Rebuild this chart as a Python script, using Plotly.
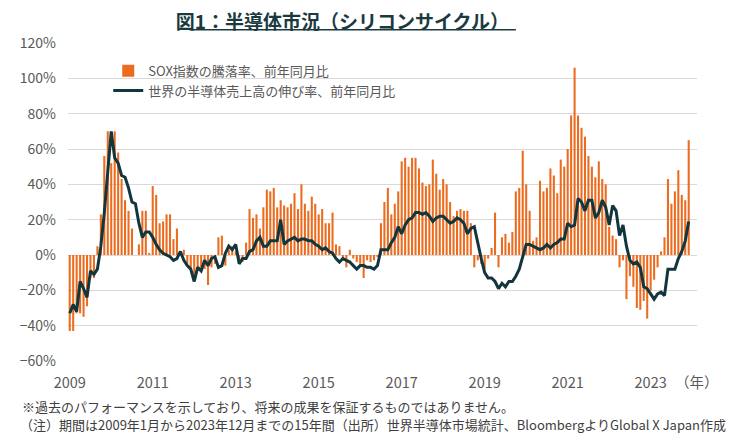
import plotly.graph_objects as go

FONT = "Noto Sans CJK JP"

years = list(range(2009, 2024))

# SOX指数の騰落率（前年同月比, %）— 1年12か月ずつ
sox = {
    2009: [-43, -43, -33, -33, -35, -29, -13, -13, 5, 23, 56, 70],
    2010: [52, 70, 58, 43, 31, 25, 15, 0, 6, 25, 25, 1],
    2011: [39, 34, 18, 19, 23, 23, 9, 15, 0, 3, -5, -8],
    2012: [-12, -8, -7, -8, -17, -7, -5, 10, 11, -6, 3, 5],
    2013: [2, -3, -4, 7, 26, 21, 23, 15, 27, 37, 36, 38],
    2014: [27, 31, 28, 27, 29, 35, 26, 40, 29, 25, 33, 29],
    2015: [23, 26, 18, 18, 24, 6, 5, -2, -7, 3, -2, -4],
    2016: [-5, -13, -3, -4, -3, -1, 18, 30, 38, 23, 29, 36],
    2017: [53, 55, 50, 55, 55, 49, 41, 39, 40, 54, 46, 37],
    2018: [43, 40, 30, 22, 25, 26, 25, 25, 18, -7, -3, -5],
    2019: [-8, -2, 4, 24, -7, 10, 12, 7, 13, 36, 38, 59],
    2020: [40, 25, 8, 10, 42, 36, 38, 49, 45, 35, 54, 50],
    2021: [60, 79, 106, 79, 72, 67, 56, 50, 44, 53, 43, 40],
    2022: [16, 11, 9, -7, -3, -25, -12, -18, -30, -31, -26, -36],
    2023: [-20, -14, -7, 2, 10, 43, 29, 36, 48, 34, 31, 65],
}

# 世界の半導体売上高の伸び率（前年同月比, %）
sales = {
    2009: [-33, -28, -32, -15, -19, -24, -9, -11, -8, 5, 24, 49],
    2010: [70, 55, 52, 45, 44, 38, 30, 29, 18, 10, 13, 13],
    2011: [10, 6, 3, 1, 0, -1, -3, -2, 2, -3, -6, -8],
    2012: [-15, -7, -9, -3, -6, -2, -1, -7, -6, 1, 5, 3],
    2013: [6, -5, -2, -2, 2, 3, 8, 10, 5, 5, 8, 8],
    2014: [8, 20, 6, 8, 9, 10, 8, 9, 9, 8, 8, 6],
    2015: [5, 3, 4, 2, 1, -2, -4, -2, -3, -4, -6, -8],
    2016: [-6, -6, -7, -7, -8, -6, 3, 3, 3, 7, 10, 16],
    2017: [12, 17, 20, 21, 24, 24, 23, 24, 22, 19, 21, 22],
    2018: [22, 20, 18, 19, 21, 20, 18, 12, 15, 16, 6, -2],
    2019: [-10, -13, -13, -15, -19, -16, -18, -15, -15, -12, -8, -1],
    2020: [6, 6, 5, 4, 3, 4, 6, 4, 6, 7, 9, 9],
    2021: [18, 16, 17, 32, 30, 25, 31, 31, 21, 24, 31, 27],
    2022: [17, 28, 25, 11, 17, 5, -3, -5, -4, -7, -18, -19],
    2023: [-22, -25, -22, -21, -23, -8, -8, -8, -2, 2, 8, 19],
}

tick_years = [2009, 2011, 2013, 2015, 2017, 2019, 2021, 2023]

months = [f"{y}-{m:02d}" for y in years for m in range(1, 13)]
sox_all = [v for y in years for v in sox[y]]
sales_all = [v for y in years for v in sales[y]]

fig = go.Figure()
fig.add_trace(go.Bar(
    x=months, y=sox_all, name="SOX指数の騰落率、前年同月比",
    marker=dict(color="#EC6C1F", line=dict(width=0)),
))
fig.add_trace(go.Scatter(
    x=months, y=sales_all, name="世界の半導体売上高の伸び率、前年同月比",
    mode="lines", line=dict(color="#12363D", width=3),
))

# ページ本体の余白(8px)を見込んでやや小さめに描く
fig.update_layout(
    width=738, height=431,
    margin=dict(l=51, r=49, t=35, b=78),
    paper_bgcolor="white", plot_bgcolor="white",
    font=dict(family=FONT, color="#595959", size=13),
    bargap=0.4,
    showlegend=True,
    legend=dict(
        x=0.064, y=0.96, xanchor="left", yanchor="top",
        bgcolor="rgba(0,0,0,0)", font=dict(size=13, color="#595959"),
        traceorder="normal",
    ),
    title=dict(
        text="<b>図1：半導体市況（シリコンサイクル）</b>",
        x=0.453, xref="container", xanchor="center",
        y=0.966, yref="container", yanchor="middle",
        font=dict(family=FONT, size=19, color="#1A3A40"),
    ),
)

fig.update_xaxes(
    type="category",
    range=[-0.5, 181.4],
    tickvals=[f"{y}-01" for y in tick_years],
    ticktext=[str(y) for y in tick_years],
    showgrid=False, showline=False, zeroline=False, ticks="",
    ticklabelstandoff=11,
    tickfont=dict(size=14.5, color="#595959"),
)
fig.update_yaxes(
    range=[-60, 120], dtick=20, ticksuffix="%",
    showgrid=True, gridcolor="#D9D9D9", gridwidth=1,
    zeroline=False, showline=False,
    ticklabelstandoff=11,
    tickfont=dict(size=14, color="#595959"),
)

# 見出しの下線
fig.add_shape(type="line", xref="paper", yref="paper",
              x0=0.193, x1=0.712, y0=1.042, y1=1.042,
              line=dict(color="#1A3A40", width=1.5))

fig.add_annotation(text="（年）", xref="paper", yref="paper", x=1.0, y=-0.063,
                   xanchor="center", yanchor="middle", showarrow=False,
                   font=dict(size=14.5, color="#595959"))
fig.add_annotation(
    text="※過去のパフォーマンスを示しており、将来の成果を保証するものではありません。",
    xref="paper", yref="paper", x=-0.077, y=-0.143, xanchor="left", yanchor="middle",
    showarrow=False, font=dict(size=13, color="#404040"))
fig.add_annotation(
    text="（注）期間は2009年1月から2023年12月までの15年間（出所）世界半導体市場統計、BloombergよりGlobal X Japan作成",
    xref="paper", yref="paper", x=-0.08, y=-0.2, xanchor="left", yanchor="middle",
    showarrow=False, font=dict(size=13, color="#404040"))

fig.write_html("out.html")
